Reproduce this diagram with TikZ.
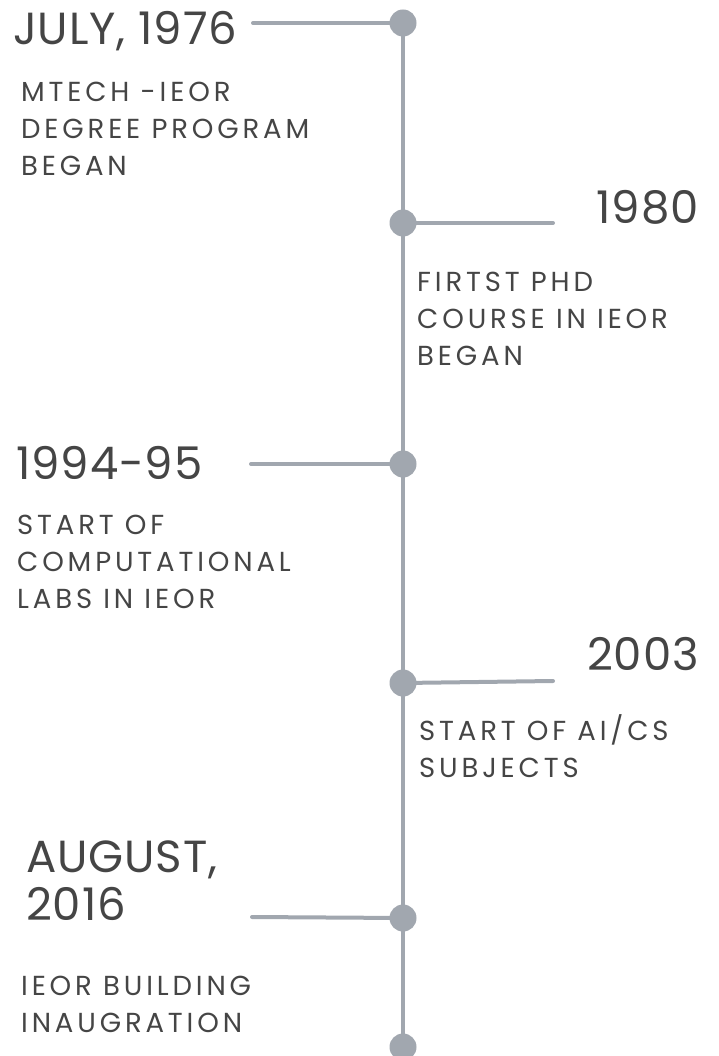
\documentclass[tikz,border=0pt]{standalone}
\usepackage{fontspec}
\setmainfont{Poppins}
\newfontfamily\descfont[LetterSpace=14]{Poppins}
\newfontfamily\yearfont[LetterSpace=2]{Poppins}
\usetikzlibrary{backgrounds}
\definecolor{linec}{HTML}{A1A7AF}
\definecolor{textc}{HTML}{454545}
\begin{document}
\begin{tikzpicture}[x=1pt,y=-1pt,
  year/.style={inner sep=0pt,text=textc,font=\yearfont\fontsize{45}{48}\selectfont},
  desc/.style={inner sep=0pt,text=textc,font=\descfont\fontsize{27.5}{37}\selectfont,align=left},
  dot/.style={circle,fill=linec,minimum size=27pt,inner sep=0pt},
  tick/.style={draw=linec,line width=4pt,line cap=round},
  spine/.style={draw=linec,line width=4pt}]
\useasboundingbox (0,0) rectangle (718,1056);
% dots
\node[dot] (d1) at (403,23) {};
\node[dot] (d2) at (403,223) {};
\node[dot] (d3) at (403,464) {};
\node[dot] (d4) at (403,683) {};
\node[dot] (d5) at (403,918) {};
\node[dot] (d6) at (403,1047) {};
% tick ends
\coordinate (e1) at (253,23);
\coordinate (e2) at (553,223);
\coordinate (e3) at (251,464);
\coordinate (e4) at (553,681);
\coordinate (e5) at (252,917);
\begin{scope}[on background layer]
\path[spine] (d1.center) -- (d6.center);
\path[tick] (e1) -- (d1.center);
\path[tick] (e2) -- (d2.center);
\path[tick] (e3) -- (d3.center);
\path[tick] (e4) -- (d4.center);
\path[tick] (e5) -- (d5.center);
\end{scope}
% years
\node[year,anchor=base west] (y1) at (13,45) {JULY, 1976};
\node[year,anchor=base east] (y2) at (699,224) {1980};
\node[year,anchor=base west] (y3) at (16,479) {1994-95};
\node[year,anchor=base east] (y4) at (699,670) {2003};
\node[year,anchor=base west,align=left] (y5) at (26,920) {AUGUST,\\2016};
% descriptions (anchored at the baseline of the last line)
\node[desc,anchor=base west] (t1) at (21,176) {MTECH -IEOR\\DEGREE PROGRAM\\BEGAN};
\node[desc,anchor=base west] (t2) at (417,365) {FIRTST PHD\\COURSE IN IEOR\\BEGAN};
\node[desc,anchor=base west] (t3) at (17,608) {START OF\\COMPUTATIONAL\\LABS IN IEOR};
\node[desc,anchor=base west] (t4) at (419,777) {START OF AI/CS\\SUBJECTS};
\node[desc,anchor=base west] (t5) at (21,1032) {IEOR BUILDING\\INAUGRATION};
\end{tikzpicture}
\end{document}
